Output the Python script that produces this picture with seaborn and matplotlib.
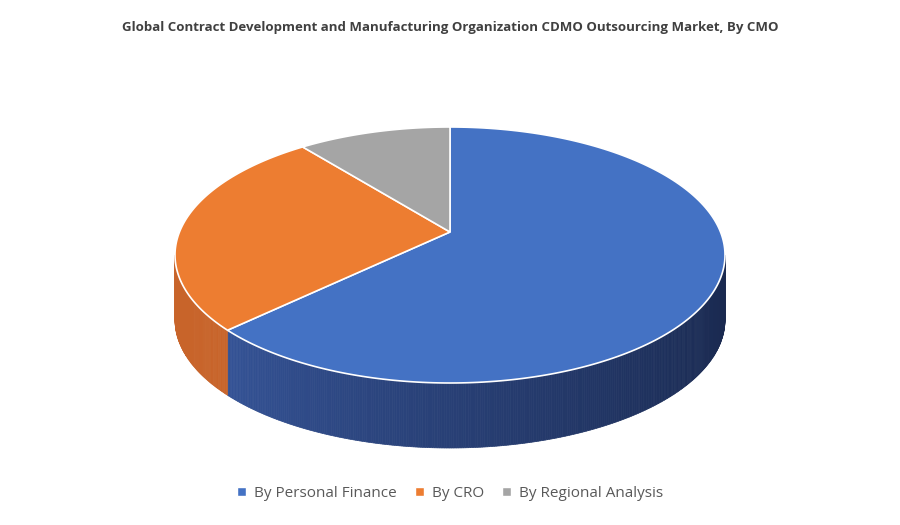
import numpy as np
import matplotlib
matplotlib.use("Agg")
import matplotlib.pyplot as plt
import seaborn as sns
from matplotlib.patches import Polygon, Patch

categories = ["By Personal Finance", "By CRO", "By Regional Analysis"]
values = [65, 26, 9]
colors = ["#4472C4", "#ED7D31", "#A5A5A5"]
side_colors = ["#2E4E8C", "#C8642A", "#7F7F7F"]

sns.set_theme(style="white")
plt.rcParams["font.family"] = "Open Sans"
fig = plt.figure(figsize=(9, 5.25), dpi=100)
ax = fig.add_axes([0, 0, 1, 1])
ax.set_xlim(0, 900); ax.set_ylim(525, 0); ax.axis("off")

cx, cy, rx, ry, depth = 450, 255, 275, 128, 65
apex = (450, 232)
def pt(a, dz=0):
    r = np.radians(a)
    return cx + rx*np.sin(r), cy - ry*np.cos(r) + dz

angles = np.concatenate([[0], np.cumsum(values)/sum(values)*360])
# side walls (front half 90..270)
for i in range(len(values)):
    a0, a1 = max(angles[i], 90), min(angles[i+1], 270)
    if a1 <= a0: continue
    steps = np.linspace(a0, a1, int((a1-a0)*2)+2)
    for s0, s1 in zip(steps[:-1], steps[1:]):
        m = (s0+s1)/2
        x0, y0 = pt(s0); x1, y1 = pt(s1)
        if i == 0:
            t = (m-90)/180  # 0 at right, 1 at left
            c1 = np.array([0.10, 0.16, 0.31]); c2 = np.array([0.24, 0.38, 0.68])
            col = c1 + (c2-c1)*t**1.3
        else:
            col = side_colors[i]
        ax.add_patch(Polygon([(x0, y0), (x1, y1), (x1, y1+depth), (x0, y0+depth)],
                             closed=True, facecolor=col, edgecolor=col, lw=0.5))
# top slices
for i in range(len(values)):
    ts = np.linspace(angles[i], angles[i+1], 200)
    poly = [apex] + [pt(t) for t in ts]
    ax.add_patch(Polygon(poly, closed=True, facecolor=colors[i], edgecolor="white", lw=1.2))

ax.text(450, 28, "Global Contract Development and Manufacturing Organization CDMO Outsourcing Market, By CMO",
        ha="center", va="center", fontsize=9.5, fontweight="bold", color="#404040")
handles = [Patch(facecolor=c, label=l) for c, l in zip(colors, categories)]
fig.legend(handles=handles, loc="center", bbox_to_anchor=(0.5, 0.06), ncol=3, frameon=False,
           fontsize=11, handlelength=0.6, handleheight=0.6, columnspacing=1.2, handletextpad=0.5,
           labelcolor="#595959")
fig.savefig("out.png", dpi=100)
